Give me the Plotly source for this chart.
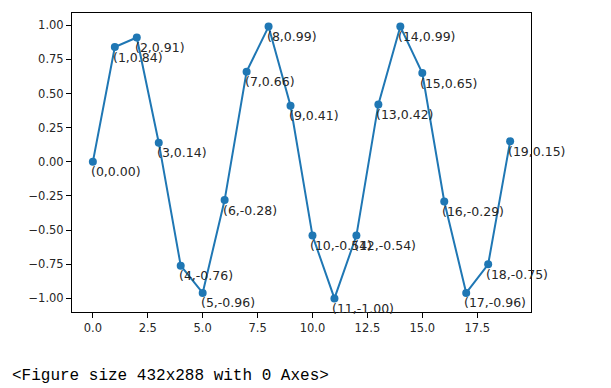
import plotly.graph_objects as go

x_vals = list(range(20))
y_vals = [0.00, 0.84, 0.91, 0.14, -0.76, -0.96, -0.28, 0.66, 0.99, 0.41,
          -0.54, -1.00, -0.54, 0.42, 0.99, 0.65, -0.29, -0.96, -0.75, 0.15]
y_ticks = [-1.00, -0.75, -0.50, -0.25, 0.00, 0.25, 0.50, 0.75, 1.00]
x_ticks = [0.0, 2.5, 5.0, 7.5, 10.0, 12.5, 15.0, 17.5]
footer = "<Figure size 432x288 with 0 Axes>"

color = "#1f77b4"

fig = go.Figure()
fig.add_trace(go.Scatter(
    x=x_vals, y=y_vals, mode="lines+markers",
    line=dict(color=color, width=2),
    marker=dict(color=color, size=8),
    showlegend=False, hoverinfo="skip",
))

annotations = []
for xv, yv in zip(x_vals, y_vals):
    annotations.append(dict(
        x=xv, y=yv, xref="x", yref="y",
        text="(%d,%.2f)" % (xv, yv),
        showarrow=False, xanchor="left", yanchor="middle",
        xshift=-4, yshift=-10,
        font=dict(family="DejaVu Sans", size=12.5, color="#262626"),
    ))

annotations.append(dict(
    x=0, y=0, xref="paper", yref="paper",
    text=footer.replace("<", "&lt;").replace(">", "&gt;"),
    showarrow=False, xanchor="left", yanchor="middle",
    xshift=-62, yshift=-64,
    font=dict(family="Liberation Mono", size=16, color="#000000"),
))

fig.update_layout(
    width=603, height=380,
    margin=dict(l=64, r=80, t=5, b=76),
    paper_bgcolor="white", plot_bgcolor="white",
    annotations=annotations,
)

axis_common = dict(
    showline=True, linecolor="black", linewidth=1, mirror=True,
    showgrid=False, zeroline=False,
    ticks="outside", ticklen=5, tickwidth=1, tickcolor="black",
    tickfont=dict(family="DejaVu Sans", size=11.5, color="#262626"),
)
fig.update_xaxes(range=[-0.95, 19.95], tickvals=x_ticks,
                 ticktext=["%.1f" % v for v in x_ticks], **axis_common)
fig.update_yaxes(range=[-1.0995, 1.0895], tickvals=y_ticks,
                 ticktext=[("\u2212%.2f" % -v) if v < 0 else "%.2f" % v for v in y_ticks],
                 **axis_common)

fig.write_html("out.html")
